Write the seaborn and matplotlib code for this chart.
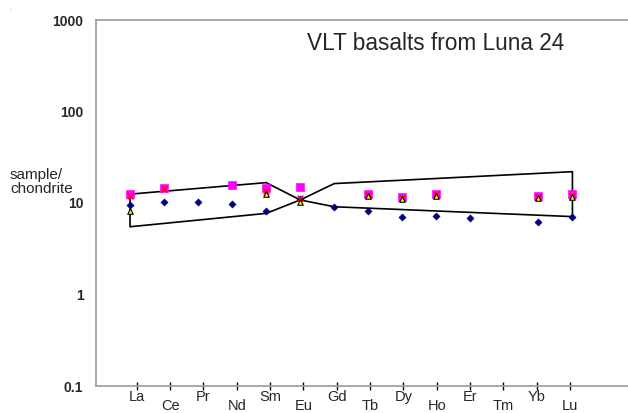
import numpy as np
import pandas as pd
import matplotlib
matplotlib.use("Agg")
import matplotlib.pyplot as plt
import seaborn as sns

# REE, chondrite normalised
ree = ["La", "Ce", "Pr", "Nd", "Sm", "Eu", "Gd", "Tb", "Dy", "Ho", "Er", "Tm", "Yb", "Lu"]
ree_pos = list(range(1, 15))

s1_el = ["La", "Ce", "Nd", "Sm", "Eu", "Tb", "Dy", "Ho", "Yb", "Lu"]
s1_val = [12.5, 14.5, 15.7, 14.6, 15.1, 12.4, 11.7, 12.7, 11.9, 12.4]

s2_el = ["La", "Ce", "Sm", "Eu", "Tb", "Dy", "Ho", "Yb", "Lu"]
s2_val = [11.9, 14.2, 13.4, 11.3, 12.1, 11.3, 12.4, 11.5, 12.0]

s3_el = ["La", "Sm", "Eu", "Tb", "Dy", "Ho", "Yb", "Lu"]
s3_val = [8.2, 12.6, 10.3, 11.8, 11.0, 12.0, 11.2, 11.7]

s4_el = ["La", "Ce", "Pr", "Nd", "Sm", "Eu", "Gd", "Tb", "Dy", "Ho", "Er", "Yb", "Lu"]
s4_val = [9.6, 10.2, 10.2, 9.8, 8.2, 11.0, 9.1, 8.2, 7.0, 7.3, 6.9, 6.15, 7.1]

# envelope of VLT basalt field (closed outline)
env_el = ["La", "Sm", "Eu", "Gd", "Lu", "Lu", "Gd", "Eu", "Sm", "La", "La"]
env_val = [12.5, 16.7, 10.8, 9.1, 7.1, 22.0, 16.3, 10.8, 7.7, 5.5, 12.5]

yticks = [0.1, 1, 10, 100, 1000]
ytick_labels = ["0.1", "1", "10", "100", "1000"]

pos = dict(zip(ree, ree_pos))


def frame(els, vals):
    return pd.DataFrame({"x": [pos[e] for e in els], "y": vals})


sns.set_style("white")
plt.rcParams["font.family"] = ["Liberation Sans", "DejaVu Sans"]

fig = plt.figure(figsize=(6.28, 4.13), dpi=100)
ax = fig.add_axes([96 / 628, 1 - 386 / 413, 544.5 / 628, 366 / 413])

sns.lineplot(data=frame(env_el, env_val), x="x", y="y", sort=False, estimator=None,
             color="black", lw=1.2, ax=ax)
sns.scatterplot(data=frame(s4_el, s4_val), x="x", y="y", marker="D", s=14,
                color="#000080", edgecolor="#000080", ax=ax, zorder=3)
sns.scatterplot(data=frame(s1_el, s1_val), x="x", y="y", marker="s", s=30,
                color="#ff00ff", edgecolor="#ff00ff", ax=ax, zorder=4)
sns.scatterplot(data=frame(s2_el, s2_val), x="x", y="y", marker="x", s=18,
                color="red", linewidth=1.0, ax=ax, zorder=5)
sns.scatterplot(data=frame(s3_el, s3_val), x="x", y="y", marker="^", s=16,
                color="#ffff00", edgecolor="black", linewidth=0.8, ax=ax, zorder=6)

ax.set_yscale("log")
ax.set_ylim(0.1, 1000)
ax.set_xlim(0, 16)
ax.set_yticks(yticks)
ax.set_yticklabels(ytick_labels, fontsize=10, fontweight="bold")
ax.yaxis.set_minor_locator(matplotlib.ticker.NullLocator())
ax.tick_params(axis="y", length=0, pad=9)
ax.set_xlabel("")
ax.set_ylabel("")

# category ticks are laid out slightly differently from the data points
tick_x = np.linspace(1.2, 13.93, len(ree))
ax.set_xticks(tick_x)
ax.set_xticklabels([])
ax.tick_params(axis="x", bottom=True, direction="inout", length=6, width=1, color="black")
for i, (tx, lab) in enumerate(zip(tick_x, ree)):
    dy = -0.03 if i % 2 == 0 else -0.055
    ax.text(tx, dy, lab, transform=ax.get_xaxis_transform(), ha="center", va="center",
            fontsize=10.5)

for side in ["left", "bottom", "top"]:
    ax.spines[side].set_color("#a0a0a0")
    ax.spines[side].set_linewidth(1.3)
ax.spines["right"].set_visible(False)

fig.text(10 / 628, 1 - 182 / 413, "sample/\nchondrite", fontsize=11, ha="left", va="center",
         linespacing=1.05)
fig.text(436 / 628, 1 - 43 / 413, "VLT basalts from Luna 24", fontsize=16.3,
         ha="center", va="center")
fig.text(10 / 628, 1 - 8 / 413, ".", fontsize=5, color="#808080", ha="center", va="center")

fig.savefig("out.png", dpi=100)
